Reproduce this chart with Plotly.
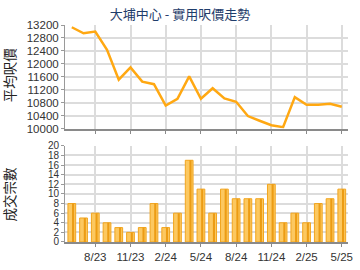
import plotly.graph_objects as go

months = ["6/23","7/23","8/23","9/23","10/23","11/23","12/23","1/24","2/24","3/24","4/24","5/24",
          "6/24","7/24","8/24","9/24","10/24","11/24","12/24","1/25","2/25","3/25","4/25","5/25"]
avg_price = [13130,12945,12995,12430,11510,11890,11450,11370,10710,10920,11613,10920,
             11245,10930,10827,10385,10240,10100,10040,10970,10735,10735,10765,10675]
deals = [8,5,6,4,3,2,3,8,3,6,17,11,6,11,9,9,9,12,4,6,4,8,9,11]
x_ticks = ["8/23","11/23","2/24","5/24","8/24","11/24","2/25","5/25"]
price_ticks = list(range(10000, 13201, 400))
deal_ticks = list(range(0, 21, 2))

title_text = "大埔中心 - 實用呎價走勢"
y1_title = "平均呎價"
y2_title = "成交宗數"

fig = go.Figure()
fig.add_trace(go.Scatter(x=months, y=avg_price, mode="lines",
                         line=dict(color="#FFA812", width=2.5),
                         xaxis="x", yaxis="y", hoverinfo="skip"))
fig.add_trace(go.Bar(x=months, y=deals, width=0.66,
                     marker=dict(color="#FCC860", line=dict(color="#F2A51E", width=1)),
                     xaxis="x2", yaxis="y2", hoverinfo="skip"))
fig.add_trace(go.Bar(x=months, y=deals, width=0.18, offset=0.02,
                     marker=dict(color="#EC9C14", line=dict(width=0)),
                     xaxis="x2", yaxis="y2", hoverinfo="skip"))

font_ax = dict(family="Liberation Sans, Arial", size=11.5, color="#333333")
font_ax_small = dict(family="Liberation Sans, Arial", size=10, color="#333333")
xcommon = dict(type="category", categoryorder="array", categoryarray=months,
               range=[-0.58, 23.53], tickmode="array", tickvals=x_ticks,
               showgrid=True, gridcolor="#dcdcdc", gridwidth=1.5,
               showline=True, linecolor="#8a8a8a", linewidth=2,
               ticks="outside", ticklen=3, tickcolor="#8a8a8a",
               tickfont=font_ax, fixedrange=True, zeroline=False)
ycommon = dict(showgrid=True, gridcolor="#dcdcdc", gridwidth=1.5,
               showline=True, linecolor="#9a9a9a", linewidth=1,
               ticks="outside", ticklen=3, tickcolor="#9a9a9a",
               zeroline=False, tickmode="array")

title_font = dict(family="Noto Sans CJK TC", size=13.5, color="#222222")

fig.update_layout(
    width=360, height=270,
    margin=dict(l=65, r=7, t=25, b=26),
    paper_bgcolor="white", plot_bgcolor="white",
    showlegend=False, barmode="overlay",
    title=dict(text=title_text, x=0.5, xanchor="center", y=0.948, yanchor="middle",
               font=dict(family="Noto Sans CJK TC", size=13, color="#1f3d6b")),
    xaxis=dict(**xcommon, anchor="y", showticklabels=False),
    xaxis2=dict(**xcommon, anchor="y2", matches="x"),
    yaxis=dict(**ycommon, domain=[0.523, 1.0], range=[10000, 13200], tickvals=price_ticks,
               ticktext=[str(v) for v in price_ticks], tickfont=font_ax),
    yaxis2=dict(**ycommon, domain=[0, 0.443], range=[0, 20], tickvals=deal_ticks,
                ticktext=[str(v) for v in deal_ticks], tickfont=font_ax_small),
    annotations=[
        dict(text=y1_title, textangle=-90, xref="paper", yref="paper",
             x=-0.197, y=0.77, xanchor="center", yanchor="middle",
             showarrow=False, font=title_font),
        dict(text=y2_title, textangle=-90, xref="paper", yref="paper",
             x=-0.197, y=0.22, xanchor="center", yanchor="middle",
             showarrow=False, font=title_font),
    ],
)

fig.write_html("out.html", config={"displayModeBar": False})
